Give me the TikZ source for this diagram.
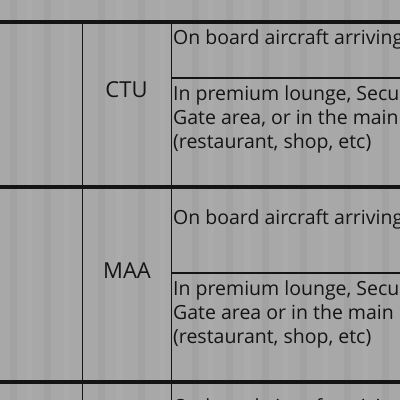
\documentclass[tikz,border=0pt]{standalone}
\usepackage{fontspec}
\setmainfont{Open Sans}
\definecolor{bg}{RGB}{168,168,168}
\definecolor{ink}{RGB}{20,20,20}
\begin{document}
\begin{tikzpicture}[x=1pt,y=-1pt,
  thickrule/.style={line width=4pt, draw=ink},
  thinrule/.style={line width=1.2pt, draw=ink},
  celltext/.style={anchor=base west, inner sep=0pt, text=ink, font=\fontsize{19.5}{24}\selectfont},
  codetext/.style={anchor=base, inner sep=0pt, text=ink, font=\fontsize{22}{26}\selectfont},
  darkband/.style={fill=black, fill opacity=0.03},
  lightband/.style={fill=white, fill opacity=0.04}]
\useasboundingbox (0,0) rectangle (400,400);
\clip (0,0) rectangle (400,400);
\fill[bg] (0,0) rectangle (400,400);
% scanner banding
\foreach \x in {10,44,98,138,192,226,262,300,344,382}
  \fill[darkband] (\x,0) rectangle (\x+7,400);
\foreach \x in {26,64,116,160,208,244,282,322,362}
  \fill[lightband] (\x,0) rectangle (\x+6,400);
% rules
\draw[thickrule] (0,21.5) -- (400,21.5);
\draw[thickrule] (0,186.5) -- (400,186.5);
\draw[thickrule] (0,382) -- (400,382);
\draw[thinrule] (82.5,21.5) -- (82.5,400);
\draw[thinrule] (171.5,21.5) -- (171.5,400);
\draw[thinrule] (171.5,78) -- (400,78);
\draw[thinrule] (171.5,273) -- (400,273);
% row CTU
\node[codetext] (ctu) at (126.5,97.3) {CTU};
\node[celltext] (ctua) at (173,44.7) {On board aircraft arriving};
\node[celltext] (ctub1) at (173,100.8) {In premium lounge, Security};
\node[celltext] (ctub2) at (173,124.8) {Gate area, or in the main};
\node[celltext] (ctub3) at (173,148.8) {(restaurant, shop, etc)};
% row MAA
\node[codetext] (maa) at (127,278) {MAA};
\node[celltext] (maaa) at (173,224.3) {On board aircraft arriving};
\node[celltext] (maab1) at (173,295.3) {In premium lounge, Security};
\node[celltext] (maab2) at (173,319.3) {Gate area or in the main};
\node[celltext] (maab3) at (173,343.3) {(restaurant, shop, etc)};
% next row (cut off)
\node[celltext] (nexta) at (173,413) {On board aircraft arriving};
\end{tikzpicture}
\end{document}
